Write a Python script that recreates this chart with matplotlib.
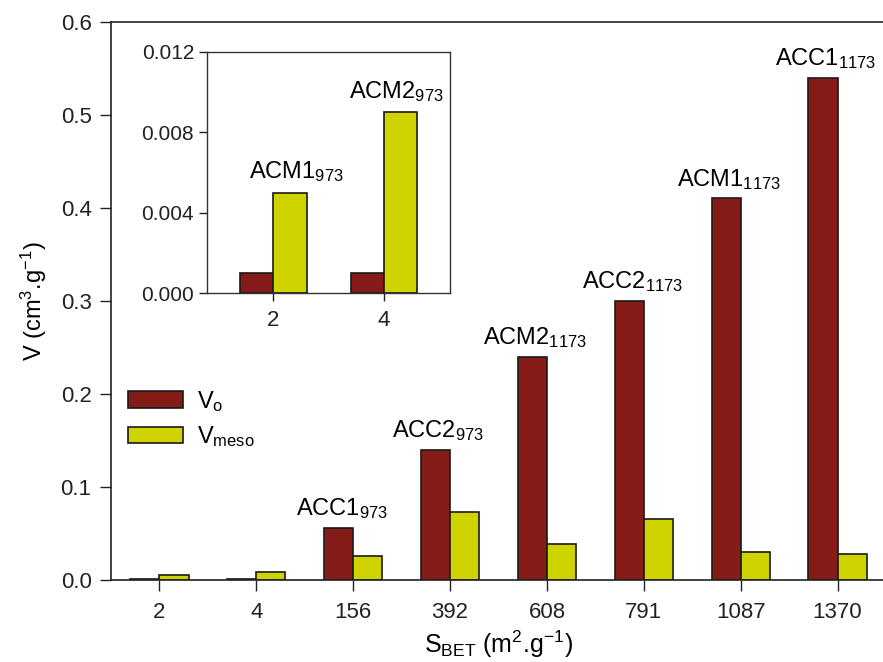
import matplotlib
matplotlib.use("Agg")
import matplotlib.pyplot as plt
import numpy as np

plt.rcParams['font.family'] = ['Liberation Sans', 'DejaVu Sans']
plt.rcParams['mathtext.fontset'] = 'custom'
plt.rcParams['mathtext.rm'] = 'Liberation Sans'
plt.rcParams['mathtext.default'] = 'regular'

# data
s_bet = ['2', '4', '156', '392', '608', '791', '1087', '1370']
v_o = [0.001, 0.001, 0.056, 0.140, 0.240, 0.300, 0.410, 0.540]
v_meso = [0.005, 0.009, 0.026, 0.073, 0.039, 0.066, 0.030, 0.028]
samples = ['ACM1', 'ACM2', 'ACC1', 'ACC2', 'ACM2', 'ACC2', 'ACM1', 'ACC1']
temps = ['973', '973', '973', '973', '1173', '1173', '1173', '1173']

# inset (first two samples, zoomed)
inset_cats = ['2', '4']
inset_vo = [0.001, 0.001]
inset_vmeso = [0.005, 0.009]
inset_names = ['ACM1', 'ACM2']
inset_temps = ['973', '973']

c_vo = '#851c18'
c_meso = '#cfd300'

fig = plt.figure(figsize=(8.83, 6.62), dpi=100)
ax = fig.add_axes([111/883, 1-580/662, 775/883, (580-21.7)/662])

x = np.arange(len(s_bet))
w = 0.3
ax.bar(x - w/2, v_o, w, color=c_vo, edgecolor='#1a1a1a', linewidth=1.2, label='V$_o$')
ax.bar(x + w/2, v_meso, w, color=c_meso, edgecolor='#1a1a1a', linewidth=1.2, label='V$_{meso}$')

for i in range(2, len(s_bet)):
    ax.annotate(samples[i] + '$_{' + temps[i] + '}$', (x[i] - 0.12, v_o[i]),
                xytext=(0, 5), textcoords='offset points',
                ha='center', va='bottom', fontsize=17)

ax.set_xlim(-0.5, 7.5)
ax.set_ylim(0, 0.6)
ax.set_xticks(x)
ax.set_xticklabels(s_bet, fontsize=16)
ax.set_yticks(np.arange(0, 0.61, 0.1))
ax.set_yticklabels(['%.1f' % v for v in np.arange(0, 0.61, 0.1)], fontsize=16)
ax.tick_params(direction='out', length=8, width=1, colors='#222222')
ax.tick_params(axis='x', pad=8)
ax.tick_params(axis='y', pad=6)
for sp in ax.spines.values():
    sp.set_color('#222222')
    sp.set_linewidth(1.2)

ax.set_xlabel('S$_{BET}$ (m$^2$.g$^{-1}$)', fontsize=18, labelpad=4)
ax.set_ylabel('V (cm$^3$.g$^{-1}$)', fontsize=17, labelpad=8)

ax.legend(loc='upper left', bbox_to_anchor=(116/883, 1-377/662), bbox_transform=fig.transFigure,
          frameon=False, fontsize=17, handlelength=2.33, handleheight=0.68,
          labelspacing=0.45, handletextpad=0.6, borderpad=0)

# inset
axi = fig.add_axes([207.3/883, 1-293.3/662, (450-207.3)/883, (293.3-51.7)/662])
xi = np.arange(len(inset_cats))
axi.bar(xi - w/2, inset_vo, w, color=c_vo, edgecolor='#1a1a1a', linewidth=1.2)
axi.bar(xi + w/2, inset_vmeso, w, color=c_meso, edgecolor='#1a1a1a', linewidth=1.2)
offs = [0.21, 0.11]
for i in range(len(inset_cats)):
    axi.annotate(inset_names[i] + '$_{' + inset_temps[i] + '}$', (xi[i] + offs[i], inset_vmeso[i]),
                 xytext=(0, 6), textcoords='offset points',
                 ha='center', va='bottom', fontsize=17)
axi.set_xlim(-0.6, 1.6)
axi.set_ylim(0, 0.012)
axi.set_xticks(xi)
axi.set_xticklabels(inset_cats, fontsize=16)
axi.set_yticks([0, 0.004, 0.008, 0.012])
axi.set_yticklabels(['0.000', '0.004', '0.008', '0.012'], fontsize=15)
axi.tick_params(direction='out', length=6, width=1, colors='#222222')
axi.tick_params(axis='x', pad=6)
for sp in axi.spines.values():
    sp.set_color('#333333')
    sp.set_linewidth(1.0)

fig.savefig('out.png', dpi=100)
